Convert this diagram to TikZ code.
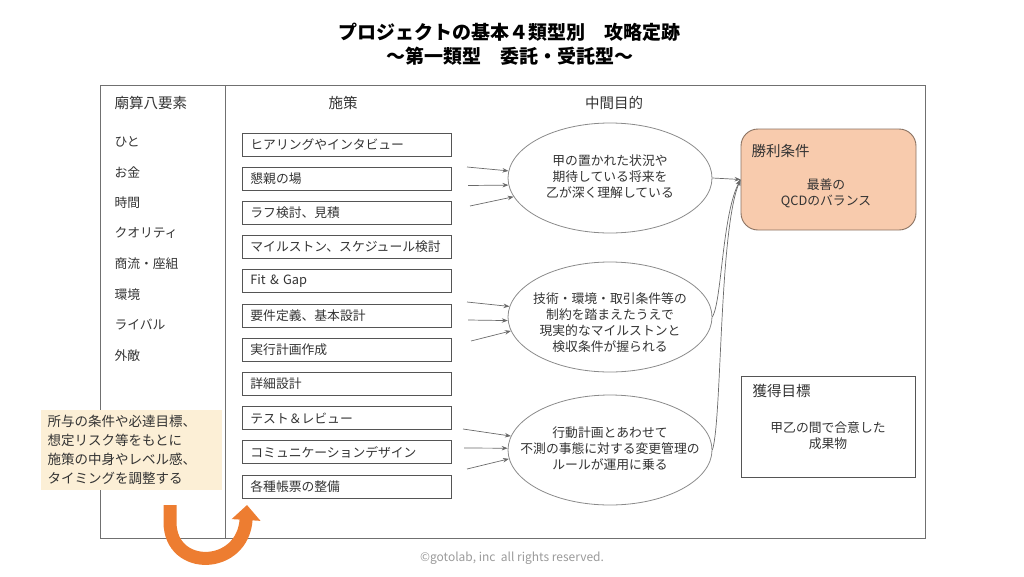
\documentclass[tikz,border=0pt]{standalone}
\usepackage{fontspec}
\setmainfont{Noto Sans CJK JP}
\usetikzlibrary{arrows.meta,shapes.geometric}
\definecolor{txt}{HTML}{333333}
\definecolor{framec}{HTML}{707070}
\definecolor{boxc}{HTML}{555555}
\definecolor{ovc}{HTML}{8A8A8A}
\definecolor{arrc}{HTML}{6A6A6A}
\definecolor{winfill}{HTML}{F8CBAD}
\definecolor{winborder}{HTML}{8A7262}
\definecolor{notefill}{HTML}{FCEFD6}
\definecolor{orangec}{HTML}{ED7D31}
\definecolor{copyc}{HTML}{9A9A9A}
\begin{document}
\begin{tikzpicture}[x=1pt,y=-1pt,
  body/.style={font=\fontsize{12.8}{16}\selectfont, text=txt},
  head/.style={font=\fontsize{14.5}{18}\selectfont, text=txt},
  sbox/.style={draw=boxc, line width=0.8pt, minimum height=23pt, text width=193pt,
    inner xsep=8pt, inner ysep=0pt, align=left, anchor=west, body},
  oval/.style={ellipse, draw=ovc, line width=0.8pt, minimum width=204pt,
    minimum height=110pt, inner sep=0pt},
  sarrow/.style={-{Stealth[length=6pt,width=4.5pt]}, draw=arrc, line width=0.7pt},
  item/.style={body, anchor=west},
]
\useasboundingbox (0,0) rectangle (1024,576);

% title
\node[font=\fontsize{19}{23}\selectfont\bfseries] (t1) at (509,32) {プロジェクトの基本４類型別　攻略定跡};
\node[font=\fontsize{19}{23}\selectfont\bfseries] (t2) at (510,56) {～第一類型　委託・受託型～};

% frame
\draw[framec, line width=0.9pt] (100,85) rectangle (925,538);
\draw[framec, line width=0.9pt] (225,85) -- (225,538);

% headers
\node[head, anchor=west] (h1) at (111,103) {廟算八要素};
\node[head] (h2) at (343,103) {施策};
\node[head] (h3) at (614,103) {中間目的};

% left items
\node[item] (l1) at (111,141.5) {ひと};
\node[item] (l2) at (111,172) {お金};
\node[item] (l3) at (111,202.5) {時間};
\node[item] (l4) at (111,233) {クオリティ};
\node[item] (l5) at (111,263.5) {商流・座組};
\node[item] (l6) at (111,294.5) {環境};
\node[item] (l7) at (111,325) {ライバル};
\node[item] (l8) at (111,355.5) {外敵};

% measure boxes
\node[sbox] (b1) at (242,144.5) {ヒアリングやインタビュー};
\node[sbox] (b2) at (242,178.7) {懇親の場};
\node[sbox] (b3) at (242,212.9) {ラフ検討、見積};
\node[sbox] (b4) at (242,247.1) {マイルストン、スケジュール検討};
\node[sbox] (b5) at (242,281.3) {Fit \& Gap};
\node[sbox] (b6) at (242,315.5) {要件定義、基本設計};
\node[sbox] (b7) at (242,349.7) {実行計画作成};
\node[sbox] (b8) at (242,383.9) {詳細設計};
\node[sbox] (b9) at (242,418.1) {テスト＆レビュー};
\node[sbox] (b10) at (242,452.3) {コミュニケーションデザイン};
\node[sbox] (b11) at (242,486.5) {各種帳票の整備};

% ellipses
\node[oval] (e1) at (610,178) {};
\node[body, align=center] (e1t) at (610,177) {甲の置かれた状況や\\期待している将来を\\乙が深く理解している};
\node[oval] (e2) at (610,317) {};
\node[body, align=center] (e2t) at (610,323) {技術・環境・取引条件等の\\制約を踏まえたうえで\\現実的なマイルストンと\\検収条件が握られる};
\node[oval] (e3) at (610,450) {};
\node[body, align=center] (e3t) at (610,449) {行動計画とあわせて\\不測の事態に対する変更管理の\\ルールが運用に乗る};

% short arrows
\coordinate (s11) at (467,167);
\coordinate (s12) at (468,185.5);
\coordinate (s13) at (470,206);
\coordinate (s21) at (467,302);
\coordinate (s22) at (468,320);
\coordinate (s23) at (471,341);
\coordinate (s31) at (463,429);
\coordinate (s32) at (464,448);
\coordinate (s33) at (467,469);
\draw[sarrow] (s11) -- (e1.176);
\draw[sarrow] (s12) -- (e1.184);
\draw[sarrow] (s13) -- (e1.191);
\draw[sarrow] (s21) -- (e2.174);
\draw[sarrow] (s22) -- (e2.182);
\draw[sarrow] (s23) -- (e2.188);
\draw[sarrow] (s31) -- (e3.172);
\draw[sarrow] (s32) -- (e3.179);
\draw[sarrow] (s33) -- (e3.185);

% win box
\node[draw=winborder, fill=winfill, line width=0.9pt, rounded corners=17pt,
  minimum width=175pt, minimum height=101pt] (win) at (828.5,179.5) {};
\node[head, anchor=west] (wint) at (748,151) {勝利条件};
\node[body, align=center] (winb) at (826,193) {最善の\\QCDのバランス};

% goal box
\node[draw=boxc, line width=0.9pt, minimum width=174pt, minimum height=101pt] (goal) at (828.5,426.5) {};
\node[head, anchor=west] (goalt) at (749,391) {獲得目標};
\node[body, align=center] (goalb) at (828,436) {甲乙の間で合意した\\成果物};

% connectors to win
\draw[sarrow] (e1.east) -- (win.west);
\draw[sarrow] (e2.east) .. controls (722,300) and (722,215) .. (win.west);
\draw[sarrow] (e3.east) .. controls (722,420) and (719,230) .. (win.west);

% note
\node[fill=notefill, minimum width=181pt, minimum height=80pt, text width=167pt,
  inner xsep=7pt, align=left, font=\fontsize{13.5}{19}\selectfont, text=txt] (note) at (131,450)
  {所与の条件や必達目標、\\想定リスク等をもとに\\施策の中身やレベル感、\\タイミングを調整する};

% orange U arrow
\coordinate (u1) at (170,505);
\coordinate (u2) at (247,505);
\draw[orangec, line width=13pt, -{Triangle[width=28pt,length=15pt]}]
  (u1) -- (170,522) .. controls (170,572) and (243,570) .. (u2);

% copyright
\node[font=\fontsize{12}{14}\selectfont, text=copyc] (copy) at (512,558) {©gotolab, inc\ \ all rights reserved.};
\end{tikzpicture}
\end{document}
